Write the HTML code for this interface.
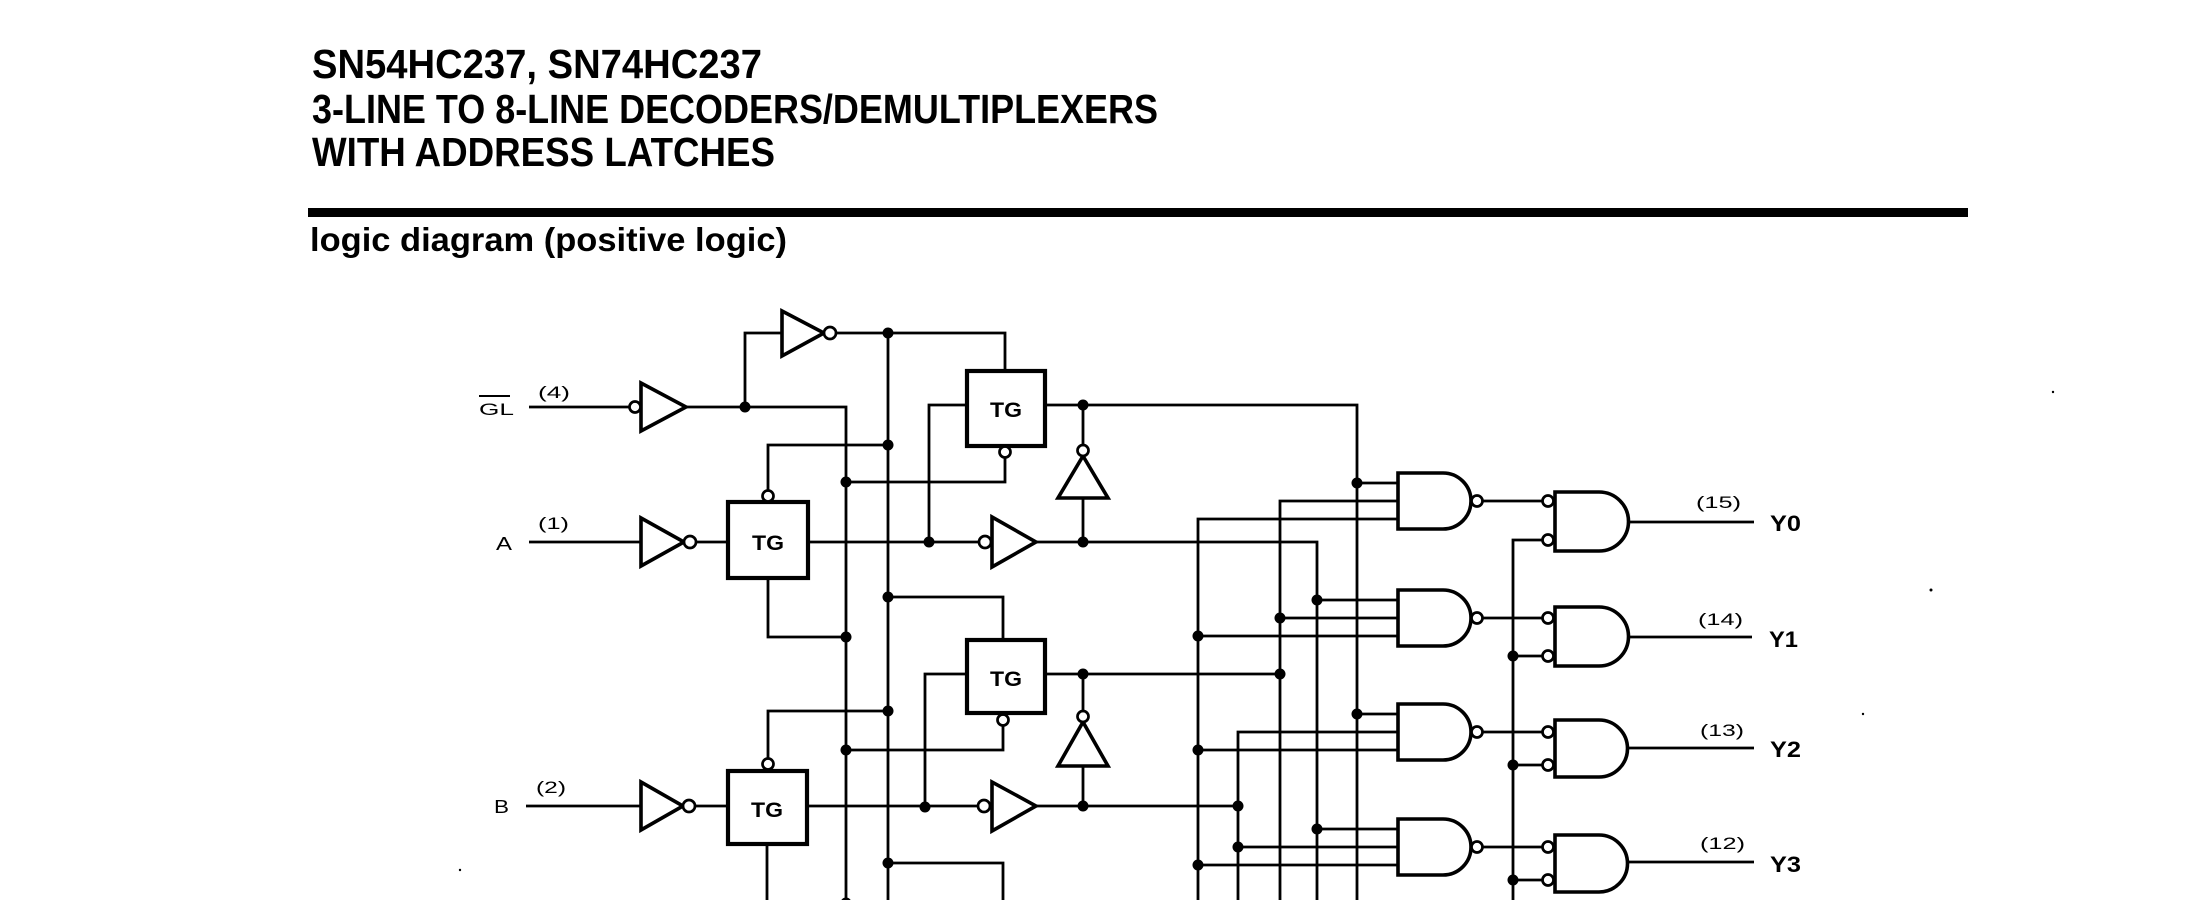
<!DOCTYPE html>
<html><head><meta charset="utf-8"><style>
html,body{margin:0;padding:0;background:#fff;}
svg{display:block;}
text{font-family:"Liberation Sans",sans-serif;fill:#000;}
</style></head><body>
<svg width="2210" height="900" viewBox="0 0 2210 900" xmlns="http://www.w3.org/2000/svg">
<rect x="0" y="0" width="2210" height="900" fill="#fff"/>
<!-- header -->
<text x="312" y="78" font-size="41" font-weight="bold" textLength="450" lengthAdjust="spacingAndGlyphs">SN54HC237, SN74HC237</text>
<text x="312" y="123" font-size="41" font-weight="bold" textLength="846" lengthAdjust="spacingAndGlyphs">3-LINE TO 8-LINE DECODERS/DEMULTIPLEXERS</text>
<text x="312" y="166" font-size="41" font-weight="bold" textLength="463" lengthAdjust="spacingAndGlyphs">WITH ADDRESS LATCHES</text>
<rect x="308" y="208" width="1660" height="9" fill="#000"/>
<text x="310" y="251" font-size="33" font-weight="bold" textLength="477" lengthAdjust="spacingAndGlyphs">logic diagram (positive logic)</text>

<!-- wires -->
<g fill="none" stroke="#000" stroke-width="2.8" stroke-linejoin="miter">
<path d="M529 407 H629"/>
<path d="M686 407 H846 V903"/>
<path d="M745 407 V333 H782"/>
<path d="M836 333 H1005 V371"/>
<path d="M888 333 V900"/>
<path d="M529 542 H641"/>
<path d="M696 542 H728"/>
<path d="M808 542 H979"/>
<path d="M1036 542 H1317 V900"/>
<path d="M929 542 V405 H967"/>
<path d="M1045 405 H1357 V900"/>
<path d="M1083 405 V445"/>
<path d="M1083 498 V542"/>
<path d="M1005 458 V482 H846"/>
<path d="M768 490 V445 H888"/>
<path d="M768 578 V637 H846"/>
<path d="M888 597 H1003 V640"/>
<path d="M1045 674 H1280"/>
<path d="M967 674 H925 V807"/>
<path d="M1003 726 V750 H846"/>
<path d="M888 711 H768 V758"/>
<path d="M526 806 H641"/>
<path d="M695 806 H728"/>
<path d="M807 806 H978"/>
<path d="M1036 806 H1238"/>
<path d="M1083 674 V711"/>
<path d="M1083 766 V806"/>
<path d="M888 863 H1003 V900"/>
<path d="M767 844 V903 H846"/>
<path d="M1357 483 H1398"/>
<path d="M1280 900 V501 H1398"/>
<path d="M1198 900 V519 H1398"/>
<path d="M1317 600 H1398"/>
<path d="M1280 618 H1398"/>
<path d="M1198 636 H1398"/>
<path d="M1357 714 H1398"/>
<path d="M1238 900 V732 H1398"/>
<path d="M1198 750 H1398"/>
<path d="M1317 829 H1398"/>
<path d="M1238 847 H1398"/>
<path d="M1198 865 H1398"/>
<path d="M1513 900 V540 H1542"/>
<path d="M1513 656 H1542"/>
<path d="M1513 765 H1542"/>
<path d="M1513 880 H1542"/>
<path d="M1482 501 H1542"/>
<path d="M1482 618 H1542"/>
<path d="M1482 732 H1542"/>
<path d="M1482 847 H1542"/>
<path d="M1628 522 H1754"/>
<path d="M1628 637 H1752"/>
<path d="M1628 748 H1754"/>
<path d="M1628 862 H1754"/>
</g>

<!-- gates, boxes -->
<g fill="#fff" stroke="#000" stroke-width="3.6" stroke-linejoin="miter">
<path d="M641 383 L641 431 L686 407 Z"/>
<path d="M782 311 L782 356 L824 333 Z"/>
<path d="M641 518 L641 566 L684 542 Z"/>
<path d="M992 517 L992 567 L1036 542 Z"/>
<path d="M1083 456 L1108 498 L1058 498 Z"/>
<path d="M641 782 L641 830 L683 806 Z"/>
<path d="M992 782 L992 831 L1036 806 Z"/>
<path d="M1083 722 L1108 766 L1058 766 Z"/>
<path d="M1398 473 H1443 A28 28 0 0 1 1443 529 H1398 Z"/>
<path d="M1398 590 H1443 A28 28 0 0 1 1443 646 H1398 Z"/>
<path d="M1398 704 H1443 A28 28 0 0 1 1443 760 H1398 Z"/>
<path d="M1398 819 H1443 A28 28 0 0 1 1443 875 H1398 Z"/>
<path d="M1555 492 H1599 A29.5 29.5 0 0 1 1599 551 H1555 Z"/>
<path d="M1555 607 H1599 A29.5 29.5 0 0 1 1599 666 H1555 Z"/>
<path d="M1555 720 H1599 A28.5 28.5 0 0 1 1599 777 H1555 Z"/>
<path d="M1555 835 H1599 A28.5 28.5 0 0 1 1599 892 H1555 Z"/>
</g>
<g fill="#fff" stroke="#000" stroke-width="4.2">
<rect x="967" y="371" width="78" height="75"/>
<rect x="728" y="502" width="80" height="76"/>
<rect x="967" y="640" width="78" height="73"/>
<rect x="728" y="771" width="79" height="73"/>
</g>

<!-- bubbles -->
<g fill="#fff" stroke="#000" stroke-width="2.7">
<circle cx="635" cy="407" r="5.5"/>
<circle cx="830" cy="333" r="6"/>
<circle cx="690" cy="542" r="6"/>
<circle cx="985" cy="542" r="6"/>
<circle cx="1083" cy="450.5" r="5.5"/>
<circle cx="1005" cy="452" r="5.5"/>
<circle cx="768" cy="496" r="5.5"/>
<circle cx="689" cy="806" r="6"/>
<circle cx="984" cy="806" r="6"/>
<circle cx="1083" cy="716.5" r="5.5"/>
<circle cx="1003" cy="720" r="5.5"/>
<circle cx="768" cy="764" r="5.5"/>
<circle cx="1477" cy="501" r="5.5"/>
<circle cx="1477" cy="618" r="5.5"/>
<circle cx="1477" cy="732" r="5.5"/>
<circle cx="1477" cy="847" r="5.5"/>
<circle cx="1548" cy="501" r="5.5"/>
<circle cx="1548" cy="540" r="5.5"/>
<circle cx="1548" cy="618" r="5.5"/>
<circle cx="1548" cy="656" r="5.5"/>
<circle cx="1548" cy="732" r="5.5"/>
<circle cx="1548" cy="765" r="5.5"/>
<circle cx="1548" cy="847" r="5.5"/>
<circle cx="1548" cy="880" r="5.5"/>
</g>

<!-- junction dots -->
<g fill="#000">
<circle cx="745" cy="407" r="5.5"/>
<circle cx="888" cy="333" r="5.5"/>
<circle cx="888" cy="445" r="5.5"/>
<circle cx="846" cy="482" r="5.5"/>
<circle cx="846" cy="637" r="5.5"/>
<circle cx="929" cy="542" r="5.5"/>
<circle cx="1083" cy="405" r="5.5"/>
<circle cx="1083" cy="542" r="5.5"/>
<circle cx="888" cy="597" r="5.5"/>
<circle cx="888" cy="711" r="5.5"/>
<circle cx="846" cy="750" r="5.5"/>
<circle cx="925" cy="807" r="5.5"/>
<circle cx="1083" cy="674" r="5.5"/>
<circle cx="1083" cy="806" r="5.5"/>
<circle cx="888" cy="863" r="5.5"/>
<circle cx="846" cy="903" r="5.5"/>
<circle cx="1280" cy="674" r="5.5"/>
<circle cx="1238" cy="806" r="5.5"/>
<circle cx="1357" cy="483" r="5.5"/>
<circle cx="1317" cy="600" r="5.5"/>
<circle cx="1280" cy="618" r="5.5"/>
<circle cx="1198" cy="636" r="5.5"/>
<circle cx="1357" cy="714" r="5.5"/>
<circle cx="1198" cy="750" r="5.5"/>
<circle cx="1317" cy="829" r="5.5"/>
<circle cx="1238" cy="847" r="5.5"/>
<circle cx="1198" cy="865" r="5.5"/>
<circle cx="1513" cy="656" r="5.5"/>
<circle cx="1513" cy="765" r="5.5"/>
<circle cx="1513" cy="880" r="5.5"/>
<circle cx="2053" cy="392" r="1.2"/>
<circle cx="1931" cy="590" r="1.5"/>
<circle cx="1863" cy="714" r="1.2"/>
<circle cx="460" cy="870" r="1.2"/>
</g>

<!-- labels -->
<text x="479" y="415" font-size="17" textLength="35" lengthAdjust="spacingAndGlyphs">GL</text>
<line x1="479" y1="396" x2="510" y2="396" stroke="#000" stroke-width="2"/>
<text x="538" y="398" font-size="17" textLength="32" lengthAdjust="spacingAndGlyphs">(4)</text>
<text x="496" y="550" font-size="18" textLength="16" lengthAdjust="spacingAndGlyphs">A</text>
<text x="538" y="529" font-size="17" textLength="31" lengthAdjust="spacingAndGlyphs">(1)</text>
<text x="494" y="813" font-size="18" textLength="15" lengthAdjust="spacingAndGlyphs">B</text>
<text x="536" y="793" font-size="17" textLength="30" lengthAdjust="spacingAndGlyphs">(2)</text>

<g font-size="21" font-weight="bold" text-anchor="middle">
<text x="1006" y="417" textLength="32" lengthAdjust="spacingAndGlyphs">TG</text>
<text x="768" y="550" textLength="32" lengthAdjust="spacingAndGlyphs">TG</text>
<text x="1006" y="686" textLength="32" lengthAdjust="spacingAndGlyphs">TG</text>
<text x="767" y="817" textLength="32" lengthAdjust="spacingAndGlyphs">TG</text>
</g>

<g font-size="17">
<text x="1696" y="508" textLength="45" lengthAdjust="spacingAndGlyphs">(15)</text>
<text x="1698" y="625" textLength="45" lengthAdjust="spacingAndGlyphs">(14)</text>
<text x="1700" y="736" textLength="44" lengthAdjust="spacingAndGlyphs">(13)</text>
<text x="1700" y="849" textLength="45" lengthAdjust="spacingAndGlyphs">(12)</text>
</g>
<g font-size="22" font-weight="bold">
<text x="1770" y="531" textLength="31" lengthAdjust="spacingAndGlyphs">Y0</text>
<text x="1769" y="647" textLength="29" lengthAdjust="spacingAndGlyphs">Y1</text>
<text x="1770" y="757" textLength="31" lengthAdjust="spacingAndGlyphs">Y2</text>
<text x="1770" y="872" textLength="31" lengthAdjust="spacingAndGlyphs">Y3</text>
</g>
</svg>
</body></html>
